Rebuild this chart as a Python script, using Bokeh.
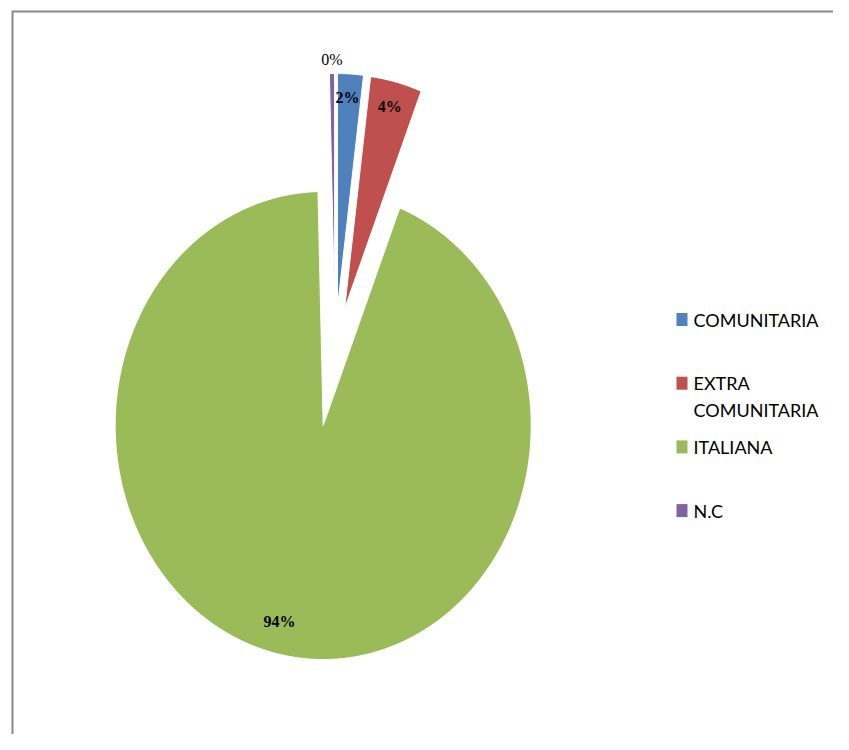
import numpy as np
from bokeh.plotting import figure
from bokeh.models import Range1d
from bokeh.core.properties import value
from bokeh.embed import file_html
from bokeh.resources import INLINE

# ---- data ----
categories = ["COMUNITARIA", "EXTRA COMUNITARIA", "ITALIANA", "N.C"]
shares = [2.0, 4.0, 93.6, 0.4]
colors = ["#4F81BD", "#C0504D", "#9BBB59", "#8064A2"]

# ---- styles / layout ----
explode = [38, 38, 68, 38]          # px (circle space)
label_r = [0.90, 0.89, 0.865, 1.06]  # fraction of radius, from slice apex
label_da = [-0.5, -0.3, 4.0, 0.0]    # degrees shift of label angle
label_bold = [True, True, True, False]

W, H = 833, 734
CX, CY = 334.6, 349.7
R = 208.0
KY = 1.125

p = figure(width=W, height=H, x_range=Range1d(0, W), y_range=Range1d(H, 0),
           output_backend="svg", toolbar_location=None, min_border=0,
           x_axis_type=None, y_axis_type=None)
p.grid.visible = False
p.outline_line_color = None
p.background_fill_color = "white"
p.border_fill_color = "white"

# chart area border (top & left visible)
p.multi_line(xs=[[12, 12, W + 20]], ys=[[H + 20, 11, 11]],
             line_color="#888888", line_width=2, line_join="miter")

total = sum(shares)
cum = np.concatenate([[0.0], np.cumsum(shares)]) / total * 360.0

xs, ys = [], []
lab_b = {"x": [], "y": [], "t": []}
lab_n = {"x": [], "y": [], "t": []}
for i, v in enumerate(shares):
    a0, a1 = cum[i], cum[i + 1]
    m = np.radians((a0 + a1) / 2)
    e = explode[i]
    ax = CX + e * np.sin(m)
    ay = CY - KY * e * np.cos(m)
    n = max(4, int((a1 - a0) * 2))
    t = np.radians(np.linspace(a0, a1, n))
    px = ax + R * np.sin(t)
    py = ay - KY * R * np.cos(t)
    xs.append([ax] + list(px))
    ys.append([ay] + list(py))
    lm = m + np.radians(label_da[i])
    lx = ax + label_r[i] * R * np.sin(lm)
    ly = ay - KY * label_r[i] * R * np.cos(lm)
    d = lab_b if label_bold[i] else lab_n
    d["x"].append(lx)
    d["y"].append(ly)
    d["t"].append(f"{round(v / total * 100)}%")

p.patches(xs, ys, fill_color=colors, line_color="white", line_width=1)

p.text(lab_b["x"], lab_b["y"], text=lab_b["t"], text_font=value("Liberation Serif"),
       text_font_size="16px", text_font_style="bold", text_align="center",
       text_baseline="middle", text_color="black")
p.text(lab_n["x"], lab_n["y"], text=lab_n["t"], text_font=value("Liberation Serif"),
       text_font_size="16px", text_align="center",
       text_baseline="middle", text_color="black")

# ---- legend (manual) ----
LX, LY0, LSTEP, LINE_GAP = 681.5, 319, 63.7, 27
sq_x, sq_y, tx, ty, tt = [], [], [], [], []
for i, c in enumerate(categories):
    yc = LY0 + i * LSTEP
    sq_x.append(LX)
    sq_y.append(yc)
    words = c.split(" ")
    for j, w in enumerate(words):
        tx.append(LX + 11.5)
        ty.append(yc + j * LINE_GAP)
        tt.append(w)
p.rect(sq_x, sq_y, width=11, height=13, fill_color=colors, line_color=None)
p.text(tx, ty, text=tt, text_font=value("Lato"), text_font_size="18px",
       text_align="left", text_baseline="middle", text_color="#000000")

open("out.html", "w").write(file_html(p, INLINE))
